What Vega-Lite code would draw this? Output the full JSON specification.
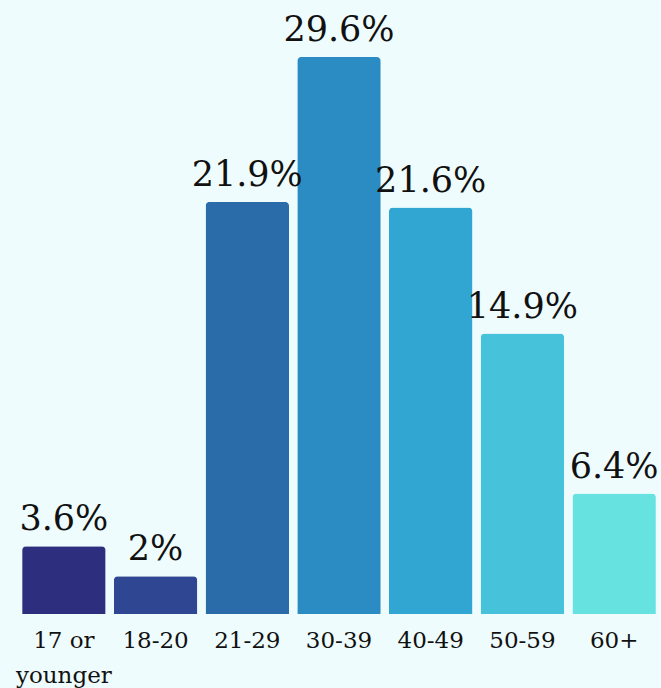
{
  "$schema": "https://vega.github.io/schema/vega-lite/v6.json",
  "width": 642,
  "height": 557,
  "autosize": "none",
  "padding": {"left": 18, "top": 57, "right": 1, "bottom": 74},
  "background": "#effcfd",
  "data": {
    "values": [
      {"age": "17 or younger", "pct": 3.6, "label": "3.6%"},
      {"age": "18-20", "pct": 2.0, "label": "2%"},
      {"age": "21-29", "pct": 21.9, "label": "21.9%"},
      {"age": "30-39", "pct": 29.6, "label": "29.6%"},
      {"age": "40-49", "pct": 21.6, "label": "21.6%"},
      {"age": "50-59", "pct": 14.9, "label": "14.9%"},
      {"age": "60+", "pct": 6.4, "label": "6.4%"}
    ]
  },
  "encoding": {
    "x": {
      "field": "age",
      "type": "nominal",
      "sort": null,
      "scale": {"paddingInner": 0.09, "paddingOuter": 0.045},
      "axis": {
        "title": null,
        "domain": false,
        "ticks": false,
        "labelAngle": 0,
        "labelFont": "DejaVu Serif",
        "labelFontSize": 23,
        "labelColor": "#111111",
        "labelPadding": 15,
        "labelLineHeight": 35,
        "labelExpr": "datum.value == '17 or younger' ? ['17 or', 'younger'] : datum.value"
      }
    },
    "y": {
      "field": "pct",
      "type": "quantitative",
      "scale": {"domain": [0, 29.6], "nice": false},
      "axis": null
    }
  },
  "layer": [
    {
      "mark": {"type": "bar", "cornerRadiusTopLeft": 4, "cornerRadiusTopRight": 4},
      "encoding": {
        "color": {
          "field": "age",
          "type": "nominal",
          "sort": null,
          "legend": null,
          "scale": {
            "range": ["#2d2e7d", "#2f4693", "#2a6ba9", "#2a8cc2", "#31a6d3", "#46c3db", "#66e2e1"]
          }
        }
      }
    },
    {
      "mark": {
        "type": "text",
        "baseline": "alphabetic",
        "dy": -16,
        "font": "DejaVu Serif",
        "fontSize": 35,
        "color": "#111111"
      },
      "encoding": {"text": {"field": "label"}}
    }
  ],
  "config": {"view": {"stroke": null}}
}
